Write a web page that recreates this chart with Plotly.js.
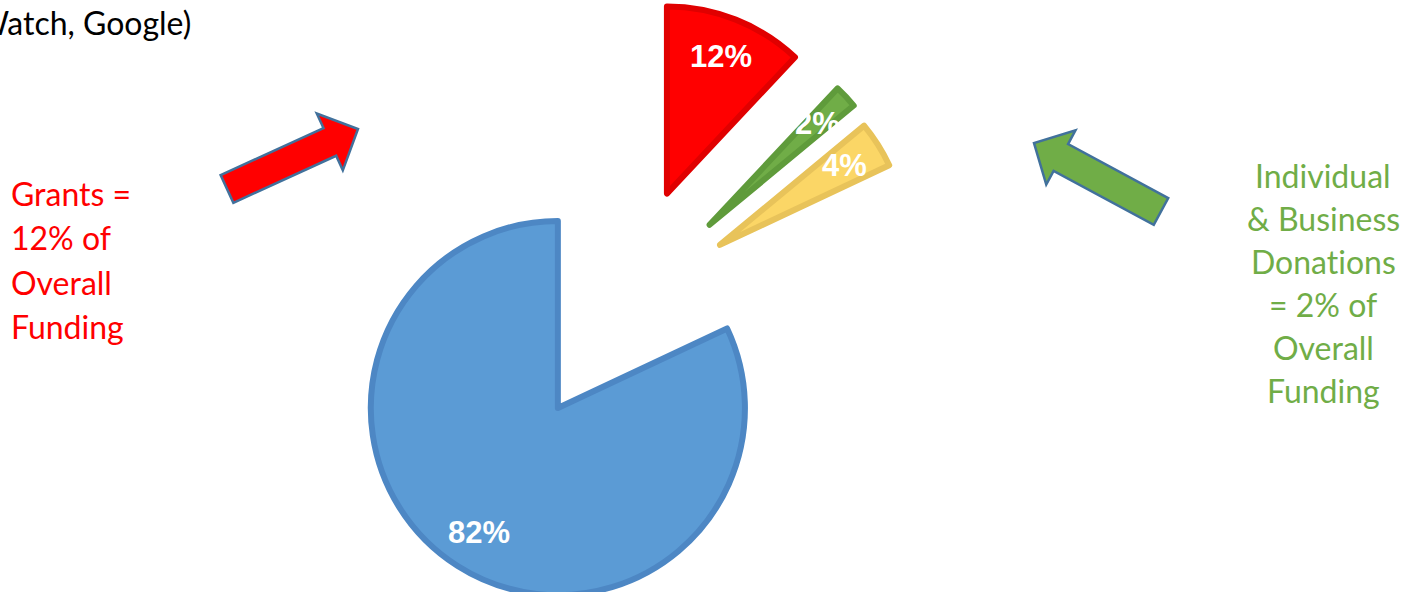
<!DOCTYPE html>
<html><head><meta charset="utf-8">
<script src="https://cdn.plot.ly/plotly-3.0.1.min.js"></script>
<style>
html,body{margin:0;padding:0;background:#fff;overflow:hidden;width:1406px;height:592px;}
#chart{position:absolute;left:0;top:-33px;width:1406px;height:680px;}
text{font-variant-ligatures:none;font-feature-settings:"liga" 0;}
</style>
</head><body><div id="chart"></div>
<script>
// ---- data ----
const categories = ["Grants", "Individual & Business Donations", "Other Revenue", "Program Service Revenue"];
const shares = [12, 2, 4, 82];
const percentLabels = ["12%", "2%", "4%", "82%"];
const headerText = "Watch, Google)";
const grantsLines = ["Grants =", "12% of", "Overall", "Funding"];
const donationLines = ["Individual", "& Business", "Donations", "= 2% of", "Overall", "Funding"];

// ---- styling ----
const pulls = [0.652, 0.642, 0.620, 0.640];
const fillColors = ["#ff0000", "#70ad47", "#fbd666", "#5b9bd5"];
const lineColors = ["#e00000", "#5f9b3b", "#e8c35a", "#4d87c4"];

const W = 1406, H = 680, OFF = 33;
const px = x => x / W;
const py = y => 1 - (y + OFF) / H;
const TXT = "Lato, 'Open Sans', sans-serif";
const TS = 32;

function arrowPath(tail, tip, sw, hw, hl) {
  const dx = tip[0] - tail[0], dy = tip[1] - tail[1];
  const L = Math.hypot(dx, dy);
  const ux = dx / L, uy = dy / L, nx = -uy, ny = ux;
  const bx = tip[0] - ux * hl, by = tip[1] - uy * hl;
  const pts = [
    [tail[0] + nx * sw / 2, tail[1] + ny * sw / 2],
    [bx + nx * sw / 2, by + ny * sw / 2],
    [bx + nx * hw / 2, by + ny * hw / 2],
    [tip[0], tip[1]],
    [bx - nx * hw / 2, by - ny * hw / 2],
    [bx - nx * sw / 2, by - ny * sw / 2],
    [tail[0] - nx * sw / 2, tail[1] - ny * sw / 2]
  ];
  return pts.map((p, i) => (i ? "L" : "M") + px(p[0]).toFixed(5) + "," + py(p[1]).toFixed(5)).join(" ") + " Z";
}

const annotations = [];
annotations.push({text: headerText, xref: "paper", yref: "paper", x: px(193), y: py(22.5),
  xanchor: "right", yanchor: "middle", showarrow: false, font: {family: TXT, size: TS, color: "#000"}});
grantsLines.forEach((t, i) => annotations.push({text: t, xref: "paper", yref: "paper",
  x: px(9), y: py(193.3 + i * 44.5), xanchor: "left", yanchor: "middle", showarrow: false,
  font: {family: TXT, size: TS, color: "#ff0000"}}));
donationLines.forEach((t, i) => annotations.push({text: t, xref: "paper", yref: "paper",
  x: px(1323), y: py(175 + i * 43), xanchor: "center", yanchor: "middle", showarrow: false,
  font: {family: TXT, size: TS, color: "#70ad47"}}));

const shapes = [
  {type: "path", xref: "paper", yref: "paper", path: arrowPath([227, 189], [358, 129], 30.5, 62.5, 31),
   fillcolor: "#ff0000", line: {color: "#41719c", width: 2.5}},
  {type: "path", xref: "paper", yref: "paper", path: arrowPath([1161, 211.5], [1034, 143], 30.5, 61.5, 30.5),
   fillcolor: "#70ad47", line: {color: "#41719c", width: 2.5}}
];

const trace = {
  type: "pie", values: shares, labels: categories, sort: false, direction: "clockwise", rotation: 0,
  pull: pulls, textinfo: "none", hoverinfo: "skip", showlegend: false,
  marker: {colors: fillColors, line: {color: lineColors, width: 6}},
  domain: {x: [0.2226, 0.6622], y: [0, 1]}
};

const layout = {
  width: W, height: H, margin: {l: 0, r: 0, t: 0, b: 0},
  paper_bgcolor: "#fff", plot_bgcolor: "#fff", showlegend: false,
  annotations: annotations, shapes: shapes
};

Plotly.newPlot("chart", [trace], layout, {displayModeBar: false, staticPlot: true}).then(gd => {
  let cx, cy, r;
  try { const c0 = gd.calcdata[0][0]; cx = c0.cx; cy = c0.cy; r = c0.r; } catch (e) {}
  if (!(isFinite(cx) && isFinite(cy) && isFinite(r))) {
    const bw = W * (trace.domain.x[1] - trace.domain.x[0]);
    r = Math.min(bw / 2, H / 2) / (1 + Math.max(...pulls));
    cx = W * (trace.domain.x[0] + trace.domain.x[1]) / 2; cy = H / 2;
  }
  const total = shares.reduce((a, b) => a + b, 0);
  let cum = 0;
  const labelAnns = shares.map((v, i) => {
    const mid = (cum + v / 2) / total * 2 * Math.PI; cum += v;
    const d = (pulls[i] + 0.79) * r;
    const x = cx + d * Math.sin(mid), y = cy - d * Math.cos(mid);
    return {text: percentLabels[i], xref: "paper", yref: "paper", x: x / W, y: 1 - y / H,
      xanchor: "center", yanchor: "middle", showarrow: false,
      font: {family: "'Liberation Sans', Arial, sans-serif", size: 31, color: "#fff", weight: 700}};
  });
  return Plotly.relayout(gd, {annotations: annotations.concat(labelAnns)});
});
</script>
</body></html>
